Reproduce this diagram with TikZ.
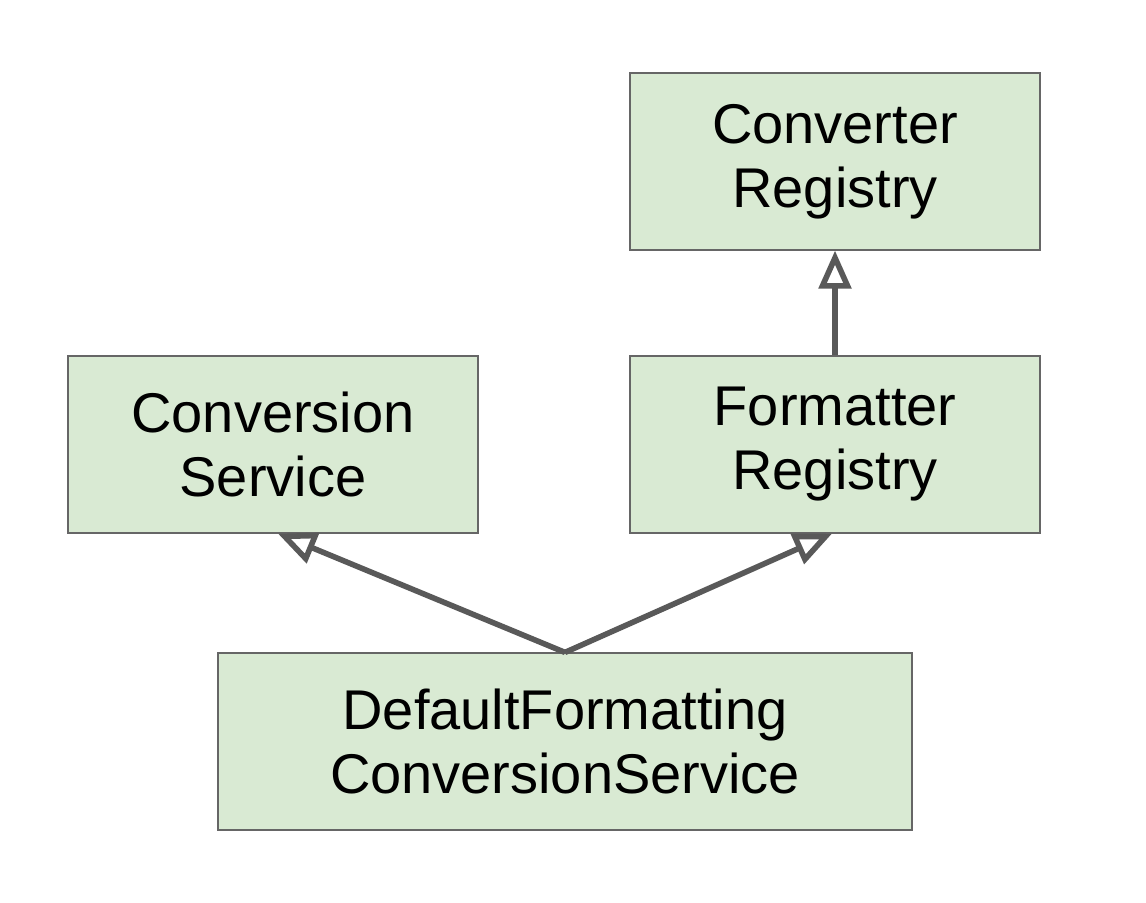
\documentclass[tikz,border=0pt]{standalone}
\usepackage{fontspec}
\setmainfont{Liberation Sans}
\usepackage{xcolor}
\usepackage{tikz}
\usetikzlibrary{arrows.meta,positioning}
\definecolor{softgreen}{HTML}{D9EAD3}
\definecolor{boxline}{HTML}{666666}
\definecolor{linegray}{HTML}{595959}
\tikzset{
  classbox/.style={draw=boxline, line width=0.6pt, fill=softgreen, align=center, inner sep=0pt, minimum width=205pt, minimum height=88.5pt, font=\fontsize{28}{32}\selectfont},
  implarrow/.style={-{Triangle[open, length=19pt, width=16pt, line width=2.8pt]}, line width=2.8pt, draw=linegray}
}

\begin{document}
\begin{tikzpicture}[x=0.5pt, y=-0.5pt]
  \useasboundingbox (0,0) rectangle (1146,902);
  \node[classbox] (convreg) at (835,161.5) {Converter\\Registry};
  \node[classbox] (convsvc) at (273,444.5) {Conversion\\Service};
  \node[classbox] (fmtreg) at (835,444.5) {Formatter\\Registry};
  \node[classbox, minimum width=347pt] (dfcs) at (565,741.5) {DefaultFormatting\\ConversionService};

  \draw[implarrow] (fmtreg.north) -- (convreg.south);
  \draw[implarrow] (dfcs.north) -- ([xshift=2.5pt]convsvc.south);
  \draw[implarrow] (dfcs.north) -- ([xshift=-1.5pt]fmtreg.south);
\end{tikzpicture}
\end{document}
